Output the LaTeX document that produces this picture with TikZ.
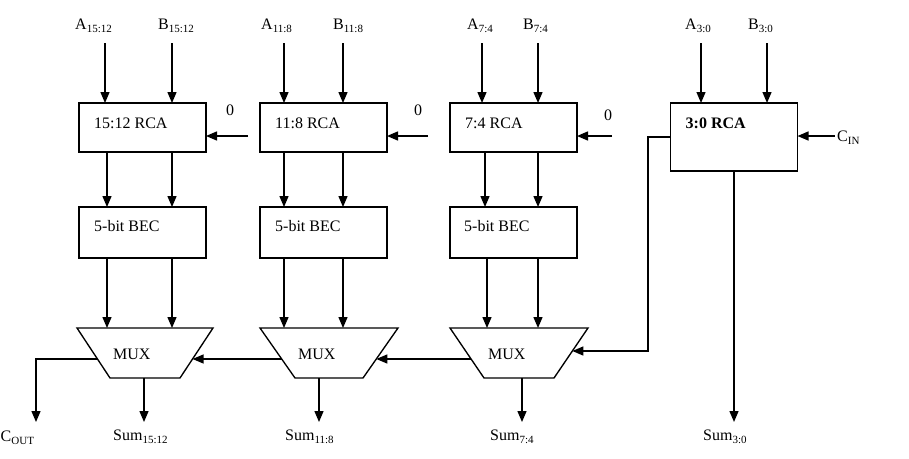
\documentclass[tikz,border=0pt]{standalone}
\usepackage{fontspec}
\setmainfont{Liberation Serif}
\usetikzlibrary{arrows.meta,calc}
\newcommand\sublab[2]{#1\raisebox{-3pt}{\fontsize{11}{11}\selectfont #2}}
\begin{document}
\begin{tikzpicture}[x=1pt,y=-1pt,
  blk/.style={draw,line width=1.4pt,minimum height=49pt,minimum width=127pt,inner sep=0pt,outer sep=0pt,anchor=north west},
  txt/.style={inner sep=0pt,anchor=base west,font=\fontsize{16}{16}\selectfont},
  wire/.style={line width=1.35pt},
  arr/.style={wire,-{Triangle[length=11pt,width=9pt]}},
]
\useasboundingbox (0,0) rectangle (909,458);

% RCA boxes
\node[blk] (r1) at (79,103) {};
\node[blk] (r2) at (260,103) {};
\node[blk] (r3) at (450,103) {};
\node[blk,minimum height=68pt] (r4) at (670.5,103) {};
\node[txt] (r1t) at ($(r1.north west)+(15,25)$) {15:12 RCA};
\node[txt] (r2t) at ($(r2.north west)+(15,25)$) {11:8 RCA};
\node[txt] (r3t) at ($(r3.north west)+(15,25)$) {7:4 RCA};
\node[txt,font=\fontsize{16}{16}\selectfont\bfseries] (r4t) at ($(r4.north west)+(15,25)$) {3:0 RCA};

% BEC boxes
\node[blk,minimum height=51pt] (b1) at (79,207) {};
\node[blk,minimum height=51pt] (b2) at (260,207) {};
\node[blk,minimum height=51pt] (b3) at (450,207) {};
\node[txt] (b1t) at ($(b1.north west)+(15,24)$) {5-bit BEC};
\node[txt] (b2t) at ($(b2.north west)+(15,24)$) {5-bit BEC};
\node[txt] (b3t) at ($(b3.north west)+(14,24)$) {5-bit BEC};

% MUX trapezoids
\coordinate (m1tl) at (77,328);  \coordinate (m1tr) at (213,328);
\coordinate (m1br) at (180,378); \coordinate (m1bl) at (110,378);
\coordinate (m2tl) at (260,328); \coordinate (m2tr) at (398,328);
\coordinate (m2br) at (363,378); \coordinate (m2bl) at (295,378);
\coordinate (m3tl) at (450,328); \coordinate (m3tr) at (588,328);
\coordinate (m3br) at (554,378); \coordinate (m3bl) at (484,378);
\draw[wire] (m1tl) -- (m1tr) -- (m1br) -- (m1bl) -- cycle;
\draw[wire] (m2tl) -- (m2tr) -- (m2br) -- (m2bl) -- cycle;
\draw[wire] (m3tl) -- (m3tr) -- (m3br) -- (m3bl) -- cycle;
\node[txt] (m1t) at (113,359) {MUX};
\node[txt] (m2t) at (298,359) {MUX};
\node[txt] (m3t) at (488,359) {MUX};

% input labels and arrows
\node[txt] (la1) at (75,29) {\sublab{A}{15:12}};
\node[txt] (lb1) at (158,29) {\sublab{B}{15:12}};
\node[txt] (la2) at (261,29) {\sublab{A}{11:8}};
\node[txt] (lb2) at (333,29) {\sublab{B}{11:8}};
\node[txt] (la3) at (467,29) {\sublab{A}{7:4}};
\node[txt] (lb3) at (523,29) {\sublab{B}{7:4}};
\node[txt] (la4) at (685,29) {\sublab{A}{3:0}};
\node[txt] (lb4) at (748,29) {\sublab{B}{3:0}};

\coordinate (ia1) at (105,43); \coordinate (ib1) at (172,43);
\coordinate (ia2) at (284,43); \coordinate (ib2) at (343,43);
\coordinate (ia3) at (482,43); \coordinate (ib3) at (538,43);
\coordinate (ia4) at (701,43); \coordinate (ib4) at (767,43);
\draw[arr] (ia1) -- (ia1 |- r1.north);
\draw[arr] (ib1) -- (ib1 |- r1.north);
\draw[arr] (ia2) -- (ia2 |- r2.north);
\draw[arr] (ib2) -- (ib2 |- r2.north);
\draw[arr] (ia3) -- (ia3 |- r3.north);
\draw[arr] (ib3) -- (ib3 |- r3.north);
\draw[arr] (ia4) -- (ia4 |- r4.north);
\draw[arr] (ib4) -- (ib4 |- r4.north);

% carry inputs
\node[txt] (z1) at (226,115) {0};
\node[txt] (z2) at (414,115) {0};
\node[txt] (z3) at (604,120) {0};
\node[txt] (cinl) at (837,141) {\sublab{C}{IN}};
\coordinate (cz1) at (248,136);
\coordinate (cz2) at (428,136);
\coordinate (cz3) at (612,136);
\coordinate (cin) at (835,136);
\draw[arr] (cz1) -- (cz1 -| r1.east);
\draw[arr] (cz2) -- (cz2 -| r2.east);
\draw[arr] (cz3) -- (cz3 -| r3.east);
\draw[arr] (cin) -- (cin -| r4.east);

% RCA -> BEC
\draw[arr] ($(r1.south west)+(28,0)$) -- ($(b1.north west)+(28,0)$);
\draw[arr] ($(r1.south west)+(93,0)$) -- ($(b1.north west)+(93,0)$);
\draw[arr] ($(r2.south west)+(24,0)$) -- ($(b2.north west)+(24,0)$);
\draw[arr] ($(r2.south west)+(83,0)$) -- ($(b2.north west)+(83,0)$);
\draw[arr] ($(r3.south west)+(35,0)$) -- ($(b3.north west)+(35,0)$);
\draw[arr] ($(r3.south west)+(88,0)$) -- ($(b3.north west)+(88,0)$);

% BEC -> MUX
\draw[arr] ($(b1.south west)+(28,0)$) coordinate (t) -- (t |- m1tl);
\draw[arr] ($(b1.south west)+(93,0)$) coordinate (t) -- (t |- m1tl);
\draw[arr] ($(b2.south west)+(24,0)$) coordinate (t) -- (t |- m2tl);
\draw[arr] ($(b2.south west)+(83,0)$) coordinate (t) -- (t |- m2tl);
\draw[arr] ($(b3.south west)+(37,0)$) coordinate (t) -- (t |- m3tl);
\draw[arr] ($(b3.south west)+(88,0)$) coordinate (t) -- (t |- m3tl);

% select / carry chain
\coordinate (m1L) at ($(m1tl)!0.62!(m1bl)$);
\coordinate (m1R) at ($(m1tr)!0.62!(m1br)$);
\coordinate (m2L) at ($(m2tl)!0.62!(m2bl)$);
\coordinate (m2R) at ($(m2tr)!0.62!(m2br)$);
\coordinate (m3L) at ($(m3tl)!0.62!(m3bl)$);
\coordinate (m3R) at ($(m3tr)!0.46!(m3br)$);
\draw[arr] (m2L) -- (m1R);
\draw[arr] (m3L) -- (m2R);
\draw[arr] (r4.west) -- ++(-22.5,0) |- (m3R);
\coordinate (cout) at (36,422);
\draw[arr] (m1L) -| (cout);

% sum outputs
\coordinate (s1) at (144,422);
\coordinate (s2) at (319,422);
\coordinate (s3) at (522,422);
\draw[arr] (s1 |- m1bl) -- (s1);
\draw[arr] (s2 |- m2bl) -- (s2);
\draw[arr] (s3 |- m3bl) -- (s3);
\draw[arr] (r4.south) -- (r4.south |- s1);

\node[txt] (cl) at (0.5,441) {\sublab{C}{OUT}};
\node[txt] (S1) at (113,440) {\sublab{Sum}{15:12}};
\node[txt] (S2) at (285,440) {\sublab{Sum}{11:8}};
\node[txt] (S3) at (490,440) {\sublab{Sum}{7:4}};
\node[txt] (S4) at (703,440) {\sublab{Sum}{3:0}};
\end{tikzpicture}
\end{document}
